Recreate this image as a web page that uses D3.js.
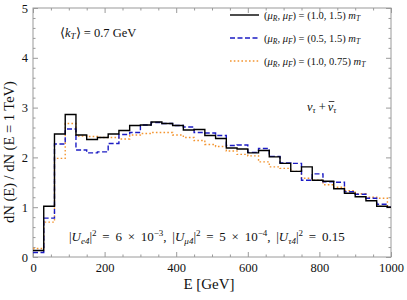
<!DOCTYPE html>
<html>
<head>
<meta charset="utf-8">
<script src="https://cdn.jsdelivr.net/npm/d3@7"></script>
<style>
  body { margin: 0; background: #fff; }
  svg text { font-family: "Liberation Serif", "Times New Roman", serif !important; fill: #111; }
  .tick text { font-size: 12.5px; }
</style>
</head>
<body>
<svg width="407" height="300"></svg>
<script>
// bin edges in GeV: 0,30,...,990 and the last short bin ends at 1000
const binEdges = d3.range(0, 1000, 30).concat([1000]);

// (muR, muF) = (1.0, 1.5) mT
const blackValues = [0.13, 1.02, 2.47, 2.86, 2.45, 2.36, 2.40, 2.47, 2.54, 2.64, 2.65, 2.71,
  2.68, 2.64, 2.55, 2.56, 2.44, 2.38, 2.19, 2.17, 2.09, 2.14, 2.01, 1.88, 1.72, 1.81,
  1.54, 1.52, 1.37, 1.28, 1.21, 1.13, 1.02, 1.00];
// (muR, muF) = (0.5, 1.5) mT
const blueValues = [0.09, 0.78, 2.27, 2.57, 2.15, 2.09, 2.11, 2.28, 2.46, 2.50, 2.65, 2.70,
  2.68, 2.64, 2.61, 2.50, 2.49, 2.44, 2.24, 2.25, 2.10, 2.18, 2.02, 1.89, 1.88, 1.54,
  1.67, 1.51, 1.50, 1.31, 1.26, 1.18, 1.06, 1.00];
// (muR, muF) = (1.0, 0.75) mT
const orangeValues = [0.17, 0.70, 1.98, 2.68, 2.43, 2.42, 2.40, 2.40, 2.37, 2.45, 2.48, 2.50,
  2.50, 2.45, 2.40, 2.34, 2.26, 2.22, 2.13, 2.06, 2.03, 1.91, 1.81, 1.78, 1.72, 1.58,
  1.54, 1.45, 1.40, 1.33, 1.27, 1.20, 1.18, 1.00];

const xTicks = [0, 200, 400, 600, 800, 1000];
const yTicks = [0, 1, 2, 3, 4, 5];

const svg = d3.select('svg');
const width = +svg.attr('width');
const height = +svg.attr('height');

const margin = {top: 8, right: 16, bottom: 43, left: 33};
const innerWidth = width - margin.left - margin.right;
const innerHeight = height - margin.top - margin.bottom;

const xScale = d3.scaleLinear().domain([0, 1000]).range([0, innerWidth]);
const yScale = d3.scaleLinear().domain([0, 5]).range([innerHeight, 0]);

const g = svg.append('g')
  .attr('transform', `translate(${margin.left},${margin.top})`);

const frameColor = '#9a9a9a';

// ticks pointing inwards, Mathematica style, on all four sides
const drawAxis = (axis, tx, ty, labels) => {
  const ag = g.append('g').attr('transform', `translate(${tx},${ty})`).call(axis);
  ag.select('.domain').remove();
  ag.selectAll('line').attr('stroke', frameColor);
  if (!labels) ag.selectAll('text').remove();
  return ag;
};

const xMinor = d3.range(0, 1001, 50).filter(v => v % 200 !== 0);
const yMinor = d3.range(0, 5.01, 0.2).map(v => +v.toFixed(1)).filter(v => v % 1 !== 0);

drawAxis(d3.axisBottom(xScale).tickValues(xTicks).tickFormat(d3.format('d')).tickSize(-5).tickPadding(6), 0, innerHeight, true);
drawAxis(d3.axisBottom(xScale).tickValues(xMinor).tickSize(-2.5), 0, innerHeight, false);
drawAxis(d3.axisTop(xScale).tickValues(xTicks).tickSize(-5), 0, 0, false);
drawAxis(d3.axisTop(xScale).tickValues(xMinor).tickSize(-2.5), 0, 0, false);
drawAxis(d3.axisLeft(yScale).tickValues(yTicks).tickFormat(d3.format('d')).tickSize(-5).tickPadding(5), 0, 0, true);
drawAxis(d3.axisLeft(yScale).tickValues(yMinor).tickSize(-2.5), 0, 0, false);
drawAxis(d3.axisRight(yScale).tickValues(yTicks).tickSize(-5), innerWidth, 0, false);
drawAxis(d3.axisRight(yScale).tickValues(yMinor).tickSize(-2.5), innerWidth, 0, false);

g.append('rect')
  .attr('width', innerWidth)
  .attr('height', innerHeight)
  .attr('fill', 'none')
  .attr('stroke', frameColor)
  .attr('stroke-width', 1);

// step histograms
const series = [
  {values: orangeValues, color: '#f39530', dash: '1.6,2.2', width: 1.4},
  {values: blueValues, color: '#1c1cc4', dash: '5,2.5', width: 1.4},
  {values: blackValues, color: '#000', dash: null, width: 1.4}
];

const stepLine = d3.line()
  .x(d => xScale(d[0]))
  .y(d => yScale(d[1]))
  .curve(d3.curveStepAfter);

series.forEach(s => {
  const pts = s.values.map((v, i) => [binEdges[i], v]);
  pts.push([binEdges[binEdges.length - 1], s.values[s.values.length - 1]]);
  g.append('path')
    .attr('d', stepLine(pts))
    .attr('fill', 'none')
    .attr('stroke', s.color)
    .attr('stroke-width', s.width)
    .attr('stroke-dasharray', s.dash);
});

// legend
const legend = [
  {label: '(1.0, 1.5)', s: series[2]},
  {label: '(0.5, 1.5)', s: series[1]},
  {label: '(1.0, 0.75)', s: series[0]}
];
legend.forEach((d, i) => {
  const y = 15 + i * 23;
  svg.append('line')
    .attr('x1', 230).attr('x2', 259).attr('y1', y).attr('y2', y)
    .attr('stroke', d.s.color)
    .attr('stroke-width', d.s.width)
    .attr('stroke-dasharray', d.s.dash);
  const t = svg.append('text').attr('x', 264).attr('y', y + 3.5).style('font-size', '10.5px');
  t.append('tspan').text('(');
  t.append('tspan').style('font-style', 'italic').text('μ');
  t.append('tspan').attr('dy', 2).style('font-size', '7.5px').style('font-style', 'italic').text('R');
  t.append('tspan').attr('dy', -2).text(', ');
  t.append('tspan').style('font-style', 'italic').text('μ');
  t.append('tspan').attr('dy', 2).style('font-size', '7.5px').style('font-style', 'italic').text('F');
  t.append('tspan').attr('dy', -2).text(') = ' + d.label + ' ');
  t.append('tspan').style('font-style', 'italic').text('m');
  t.append('tspan').attr('dy', 2).style('font-size', '7.5px').style('font-style', 'italic').text('T');
});

// annotations
const kt = svg.append('text').attr('x', 60).attr('y', 37).style('font-size', '12.5px');
kt.append('tspan').text('⟨');
kt.append('tspan').style('font-style', 'italic').text('k');
kt.append('tspan').attr('dy', 2).style('font-size', '9px').style('font-style', 'italic').text('T');
kt.append('tspan').attr('dy', -2).text('⟩ = 0.7 GeV');

// nu_tau + anti-nu_tau, split in two so the bar can sit over the second nu
const nu1 = svg.append('text').attr('x', 307).attr('y', 111).style('font-size', '12.5px');
nu1.append('tspan').style('font-style', 'italic').text('ν');
nu1.append('tspan').attr('dy', 2).style('font-size', '8.5px').style('font-style', 'italic').text('τ');
nu1.append('tspan').attr('dy', -2).text(' + ');
const nu2x = 307 + nu1.node().getComputedTextLength() + 2;
const nu2 = svg.append('text').attr('x', nu2x).attr('y', 111).style('font-size', '12.5px');
const nuGlyph = nu2.append('tspan').style('font-style', 'italic').text('ν');
nu2.append('tspan').attr('dy', 2).style('font-size', '8.5px').style('font-style', 'italic').text('τ');
const nuW = nuGlyph.node().getComputedTextLength();
svg.append('line')
  .attr('x1', nu2x + 1).attr('x2', nu2x + nuW + 1)
  .attr('y1', 101.5).attr('y2', 101.5)
  .attr('stroke', '#111').attr('stroke-width', 0.8);

const mix = svg.append('text').attr('x', 69).attr('y', 241)
  .style('font-size', '13px').style('word-spacing', '2.5px');
const mixPart = (sub, val, sup, last) => {
  mix.append('tspan').text('|');
  mix.append('tspan').style('font-style', 'italic').text('U');
  mix.append('tspan').attr('dy', 2.5).style('font-size', '9px').style('font-style', 'italic').text(sub);
  mix.append('tspan').attr('dy', -2.5).text('|');
  mix.append('tspan').attr('dy', -5).style('font-size', '9px').text('2');
  mix.append('tspan').attr('dy', 5).text(' = ' + val);
  if (sup) {
    mix.append('tspan').attr('dy', -5).style('font-size', '9px').text(sup);
    mix.append('tspan').attr('dy', 5).text(last ? '' : ',  ');
  } else if (!last) {
    mix.append('tspan').text(',  ');
  }
};
mixPart('e4', '6 × 10', '−3', false);
mixPart('μ4', '5 × 10', '−4', false);
mixPart('τ4', '0.15', null, true);

// axis labels
svg.append('text')
  .attr('x', margin.left + innerWidth / 2 - 3)
  .attr('y', 289)
  .attr('text-anchor', 'middle')
  .style('font-size', '15px')
  .text('E [GeV]');

svg.append('text')
  .attr('transform', `translate(14,152) rotate(-90)`)
  .attr('text-anchor', 'middle')
  .style('font-size', '14.5px')
  .text('dN (E) / dN (E = 1 TeV)');
</script>
</body>
</html>
